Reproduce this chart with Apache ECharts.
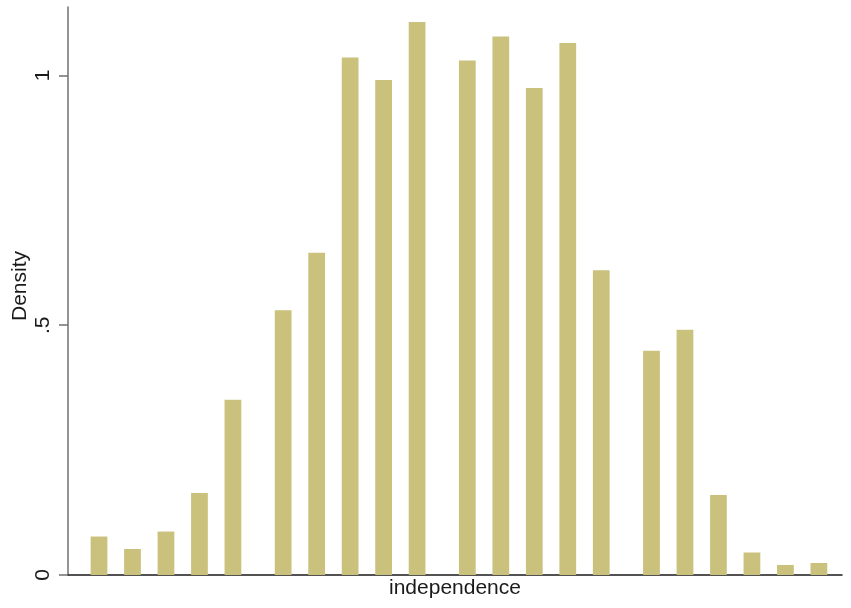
<!DOCTYPE html>
<html>
<head>
<meta charset="utf-8">
<script src="https://cdn.jsdelivr.net/npm/echarts@6/dist/echarts.min.js"></script>
<style>html,body{margin:0;padding:0;background:#fff;}#chart{width:851px;height:608px;}</style>
</head>
<body>
<div id="chart"></div>
<script>
// bin positions (in units of bar spacing) and densities
const binPositions = [0, 1, 2, 3, 4, 5.5, 6.5, 7.5, 8.5, 9.5, 11, 12, 13, 14, 15, 16.5, 17.5, 18.5, 19.5, 20.5, 21.5];
const densities = [0.077, 0.052, 0.087, 0.164, 0.351, 0.530, 0.645, 1.036, 0.991, 1.107, 1.030, 1.078, 0.975, 1.065, 0.610, 0.449, 0.491, 0.160, 0.045, 0.020, 0.024];
const yTickValues = [0, 0.5, 1];
const yTickLabels = ['0', '.5', '1'];
const binHalfWidth = 0.25;

const data = binPositions.map((x, i) => [x, densities[i]]);
const chart = echarts.init(document.getElementById('chart'));
chart.setOption({
  animation: false,
  backgroundColor: '#ffffff',
  grid: { left: 68, right: 9, top: 7, bottom: 33, containLabel: false, outerBoundsMode: 'none' },
  xAxis: {
    type: 'value',
    min: -0.926,
    max: 22.19,
    name: 'independence',
    nameLocation: 'middle',
    nameGap: 3,
    nameTextStyle: { fontFamily: 'Liberation Sans', fontSize: 21, color: '#1a1a1a', verticalAlign: 'top' },
    axisLine: { show: true, onZero: false, lineStyle: { color: '#1a1a1a', width: 1.5 } },
    axisTick: { show: false },
    axisLabel: { show: false },
    splitLine: { show: false }
  },
  yAxis: {
    type: 'value',
    min: 0,
    max: 1.137,
    name: 'Density',
    nameLocation: 'middle',
    nameGap: 37,
    nameMoveOverlap: false,
    nameTextStyle: { fontFamily: 'Liberation Sans', fontSize: 21, color: '#1a1a1a', padding: [0, 0, 0, 10] },
    axisLine: { show: true, onZero: false, lineStyle: { color: '#707070', width: 1.5 } },
    axisTick: { show: true, length: 9, customValues: yTickValues, lineStyle: { color: '#707070', width: 1.5 } },
    axisLabel: {
      show: true,
      customValues: yTickValues,
      rotate: 90,
      margin: 14,
      fontFamily: 'Liberation Sans',
      fontSize: 21,
      color: '#1a1a1a',
      formatter: v => { const i = yTickValues.indexOf(v); return i >= 0 ? yTickLabels[i] : ''; }
    },
    splitLine: { show: false }
  },
  series: [{
    type: 'custom',
    data: data,
    encode: { x: 0, y: 1 },
    renderItem: function (params, api) {
      const x = api.value(0), y = api.value(1);
      const p1 = api.coord([x - binHalfWidth, y]);
      const p2 = api.coord([x + binHalfWidth, 0]);
      return {
        type: 'rect',
        shape: { x: p1[0], y: p1[1], width: p2[0] - p1[0], height: p2[1] - p1[1] },
        style: { fill: '#c9c17c' }
      };
    }
  }]
});
</script>
</body>
</html>
